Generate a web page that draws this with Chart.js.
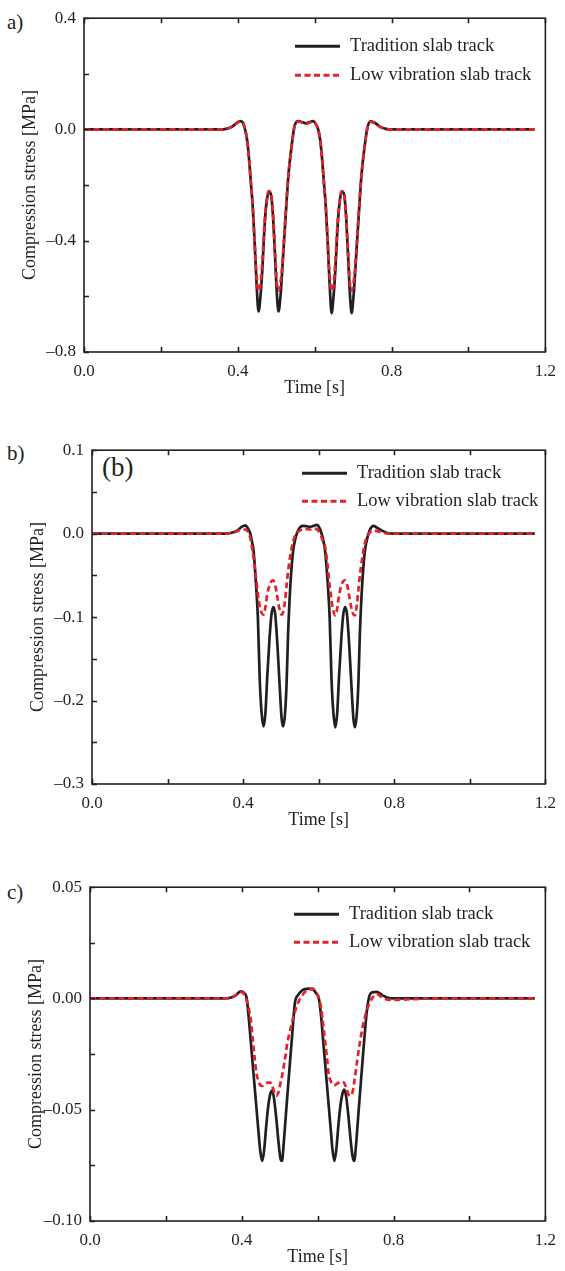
<!DOCTYPE html>
<html>
<head>
<meta charset="utf-8">
<script src="https://cdn.jsdelivr.net/npm/chart.js@4.4.1/dist/chart.umd.min.js"></script>
<style>
  body { margin: 0; background: #fff; width: 565px; height: 1271px; overflow: hidden; position: relative; font-family: "Liberation Serif", serif; color: #231f20; }
  canvas { position: absolute; left: 0; }
  .tag { position: absolute; left: 7px; font-size: 21px; line-height: 24px; }
</style>
</head>
<body>
<div class="tag" style="top:10px">a)</div>
<div class="tag" style="top:441px">b)</div>
<div class="tag" style="top:880px">c)</div>
<div class="tag" style="left:102px; top:452px; font-size:27px; line-height:30px">(b)</div>
<canvas id="chartA" width="565" height="402" style="top:0px"></canvas>
<canvas id="chartB" width="565" height="402" style="top:432px"></canvas>
<canvas id="chartC" width="565" height="402" style="top:869px"></canvas>
<script>
// time axis [s], shared by all panels
const time = [0, 0.1, 0.2, 0.3, 0.35, 0.37, 0.385, 0.396, 0.406,
  0.413, 0.419, 0.424, 0.428, 0.434, 0.439, 0.444, 0.449, 0.454, 0.459, 0.464, 0.470, 0.475, 0.480, 0.485, 0.491, 0.497, 0.502, 0.506, 0.511, 0.515, 0.519, 0.525, 0.532, 0.540,
  0.548, 0.558, 0.567, 0.577, 0.587, 0.595,
  0.603, 0.609, 0.614, 0.618, 0.624, 0.629, 0.634, 0.639, 0.644, 0.649, 0.654, 0.660, 0.665, 0.670, 0.675, 0.681, 0.687, 0.692, 0.696, 0.701, 0.705, 0.709, 0.715, 0.722, 0.730,
  0.737, 0.745, 0.755, 0.770, 0.785, 0.80, 0.9, 1.0, 1.1, 1.172];

// a) compression stress [MPa]
const tradA = [0, 0, 0, 0, 0, 0.002, 0.01, 0.022, 0.03,
  0.025, 0.0, -0.035, -0.085, -0.19, -0.28, -0.41, -0.56, -0.654, -0.6, -0.5, -0.34, -0.26, -0.228, -0.228, -0.3, -0.46, -0.6, -0.654, -0.6, -0.52, -0.43, -0.3, -0.16, -0.06,
  0.015, 0.03, 0.027, 0.022, 0.027, 0.03,
  0.02, 0.0, -0.035, -0.085, -0.19, -0.28, -0.41, -0.56, -0.66, -0.6, -0.5, -0.34, -0.26, -0.226, -0.226, -0.3, -0.46, -0.6, -0.66, -0.6, -0.52, -0.43, -0.3, -0.16, -0.06,
  0.005, 0.029, 0.025, 0.01, 0.002, 0, 0, 0, 0, 0];
const lowA = [0, 0, 0, 0, 0, 0.002, 0.01, 0.021, 0.029,
  0.024, 0.0, -0.035, -0.085, -0.19, -0.28, -0.41, -0.53, -0.58, -0.56, -0.47, -0.33, -0.255, -0.222, -0.225, -0.29, -0.44, -0.56, -0.58, -0.55, -0.5, -0.42, -0.29, -0.16, -0.06,
  0.013, 0.028, 0.025, 0.02, 0.025, 0.028,
  0.019, 0.0, -0.035, -0.085, -0.19, -0.28, -0.41, -0.53, -0.58, -0.56, -0.47, -0.33, -0.255, -0.222, -0.225, -0.29, -0.44, -0.56, -0.58, -0.55, -0.5, -0.42, -0.29, -0.16, -0.06,
  0.004, 0.027, 0.023, 0.009, 0.002, 0, 0, 0, 0, 0];

// b)
const tradB = [0, 0, 0, 0, 0, 0.001, 0.004, 0.008, 0.010,
  0.006, 0.0, -0.011, -0.022, -0.06, -0.10, -0.175, -0.215, -0.231, -0.215, -0.17, -0.125, -0.097, -0.088, -0.097, -0.135, -0.185, -0.222, -0.231, -0.215, -0.18, -0.12, -0.062, -0.022, -0.003,
  0.006, 0.0094, 0.009, 0.0082, 0.0095, 0.0104,
  0.006, -0.002, -0.012, -0.025, -0.06, -0.10, -0.175, -0.215, -0.232, -0.215, -0.17, -0.125, -0.097, -0.088, -0.097, -0.135, -0.185, -0.222, -0.232, -0.215, -0.18, -0.12, -0.062, -0.022, -0.003,
  0.006, 0.0094, 0.007, 0.003, 0.0005, 0, 0, 0, 0, 0];
const lowB = [0, 0, 0, 0, 0, 0.001, 0.003, 0.005, 0.005,
  0.002, -0.005, -0.018, -0.03, -0.052, -0.072, -0.087, -0.095, -0.097, -0.088, -0.072, -0.062, -0.057, -0.056, -0.062, -0.077, -0.092, -0.097, -0.094, -0.08, -0.062, -0.045, -0.026, -0.01, 0.0,
  0.003, 0.005, 0.0055, 0.005, 0.006, 0.005,
  0.001, -0.006, -0.012, -0.018, -0.04, -0.062, -0.08, -0.093, -0.098, -0.09, -0.074, -0.062, -0.057, -0.056, -0.061, -0.075, -0.09, -0.097, -0.098, -0.085, -0.068, -0.05, -0.03, -0.012, -0.002,
  0.002, 0.004, 0.003, 0.001, 0, 0, 0, 0, 0, 0];

// c)
const tradC = [0, 0, 0, 0, 0, 0.0003, 0.0015, 0.0032, 0.0025,
  0.0, -0.01, -0.02, -0.028, -0.04, -0.05, -0.06, -0.069, -0.073, -0.068, -0.058, -0.048, -0.043, -0.0414, -0.045, -0.054, -0.065, -0.072, -0.073, -0.064, -0.055, -0.046, -0.033, -0.018, -0.002,
  0.0015, 0.0035, 0.0042, 0.0044, 0.0042, 0.0025,
  0.0, -0.008, -0.018, -0.026, -0.038, -0.048, -0.058, -0.068, -0.073, -0.068, -0.058, -0.048, -0.043, -0.041, -0.044, -0.053, -0.064, -0.071, -0.073, -0.066, -0.057, -0.048, -0.035, -0.02, -0.005,
  0.0015, 0.0028, 0.003, 0.0015, 0.0003, 0, 0, 0, 0, 0];
const lowC = [0, 0, 0, 0, 0, 0.0003, 0.0015, 0.003, 0.002,
  -0.001, -0.005, -0.01, -0.017, -0.027, -0.034, -0.037, -0.039, -0.0393, -0.0385, -0.038, -0.0378, -0.0378, -0.039, -0.042, -0.0437, -0.042, -0.038, -0.035, -0.03, -0.026, -0.021, -0.016, -0.011, -0.006,
  -0.002, 0.001, 0.003, 0.0038, 0.0044, 0.003,
  0.0, -0.004, -0.011, -0.017, -0.026, -0.034, -0.037, -0.0385, -0.039, -0.0385, -0.038, -0.0375, -0.0375, -0.038, -0.04, -0.043, -0.0437, -0.042, -0.038, -0.032, -0.027, -0.022, -0.016, -0.01, -0.005,
  -0.002, 0.0005, 0.002, 0.0005, -0.0005, -0.0006, 0, 0, 0, 0];

const seriesNames = ["Tradition slab track", "Low vibration slab track"];
const xTitle = "Time [s]";
const yTitle = "Compression stress [MPa]";

const ink = "#231f20";
const red = "#e3232b";
const font = "Liberation Serif";

const fmt = (v, digits) => {
  const n = Math.abs(v) < 1e-9 ? 0 : v;
  return (n < 0 ? "\u2013" : "") + Math.abs(n).toFixed(digits);
};

// box round the plot, inward ticks on top / bottom / left
const frame = {
  id: "frame",
  afterDatasetsDraw(chart) {
    const { ctx, chartArea: a, scales } = chart;
    ctx.save();
    ctx.strokeStyle = ink;
    ctx.lineWidth = 1.6;
    ctx.beginPath();
    scales.x.ticks.forEach((t) => {
      const x = Math.round(scales.x.getPixelForValue(t.value)) + 0.5;
      ctx.moveTo(x, a.bottom); ctx.lineTo(x, a.bottom - 5);
      ctx.moveTo(x, a.top); ctx.lineTo(x, a.top + 5);
    });
    scales.y.ticks.forEach((t) => {
      const y = Math.round(scales.y.getPixelForValue(t.value)) + 0.5;
      ctx.moveTo(a.left, y); ctx.lineTo(a.left + 5, y);
    });
    ctx.stroke();
    ctx.strokeRect(a.left, a.top, a.right - a.left, a.bottom - a.top);
    ctx.restore();
  },
};

// legend drawn inside the plot area
const insideLegend = {
  id: "insideLegend",
  afterDraw(chart, args, opts) {
    const { ctx, chartArea: a } = chart;
    ctx.save();
    chart.data.datasets.forEach((ds, i) => {
      const x = a.left + opts.left;
      const y = a.top + opts.top + i * opts.gap;
      ctx.beginPath();
      ctx.strokeStyle = ds.borderColor;
      ctx.lineWidth = 3;
      ctx.setLineDash(ds.borderDash || []);
      ctx.moveTo(x, y);
      ctx.lineTo(x + 45, y);
      ctx.stroke();
      ctx.setLineDash([]);
      ctx.fillStyle = ink;
      ctx.font = `18.5px "${font}"`;
      ctx.textBaseline = "middle";
      ctx.fillText(ds.label, x + 55, y);
    });
    ctx.restore();
  },
};

const makeChart = (id, trad, low, yMin, yMax, yStep, digits, pad, legend) => {
  new Chart(document.getElementById(id).getContext("2d"), {
    type: "line",
    data: {
      datasets: [
        {
          label: seriesNames[0],
          data: time.map((t, i) => ({ x: t, y: trad[i] })),
          borderColor: ink,
          borderWidth: 2.7,
          order: 1,
        },
        {
          label: seriesNames[1],
          data: time.map((t, i) => ({ x: t, y: low[i] })),
          borderColor: red,
          borderWidth: 2.7,
          borderDash: [6, 3.5],
          order: 0,
        },
      ],
    },
    options: {
      responsive: false,
      animation: false,
      events: [],
      elements: {
        point: { radius: 0 },
        line: { cubicInterpolationMode: "monotone" },
      },
      layout: {
        padding: { left: pad.left, right: pad.right, top: 13, bottom: 0 },
      },
      plugins: {
        legend: { display: false },
        tooltip: { enabled: false },
        insideLegend: legend,
      },
      scales: {
        x: {
          type: "linear",
          min: 0,
          max: 1.2,
          grid: { display: false, drawTicks: false },
          border: { display: false },
          ticks: {
            stepSize: 0.2,
            autoSkip: false,
            maxRotation: 0,
            padding: 9,
            color: ink,
            font: { family: font, size: 17 },
            callback: (v, i) => (i % 2 === 0 ? fmt(v, 1) : ""),
          },
          title: {
            display: true,
            text: xTitle,
            color: ink,
            font: { family: font, size: 18 },
            padding: { top: 0, bottom: 3 },
          },
          afterFit: (scale) => { scale.height = 50; },
        },
        y: {
          min: yMin,
          max: yMax,
          grid: { display: false, drawTicks: false },
          border: { display: false },
          ticks: {
            stepSize: yStep,
            autoSkip: false,
            padding: 8,
            color: ink,
            font: { family: font, size: 17 },
            callback: (v, i) => (i % 2 === 0 ? fmt(v, digits) : ""),
          },
          title: {
            display: true,
            text: yTitle,
            color: ink,
            font: { family: font, size: 18 },
            padding: { top: 3, bottom: 4 },
          },
          afterFit: (scale) => { scale.width = 68; },
        },
      },
    },
    plugins: [frame, insideLegend],
  });
};

makeChart("chartA", tradA, lowA, -0.8, 0.4, 0.2, 1, { left: 16, right: 19 }, { left: 211, top: 28, gap: 29 });
makeChart("chartB", tradB, lowB, -0.3, 0.1, 0.05, 1, { left: 24, right: 11 }, { left: 210, top: 23, gap: 28 });
makeChart("chartC", tradC, lowC, -0.1, 0.05, 0.025, 2, { left: 22, right: 14 }, { left: 204, top: 27, gap: 28 });
</script>
</body>
</html>
